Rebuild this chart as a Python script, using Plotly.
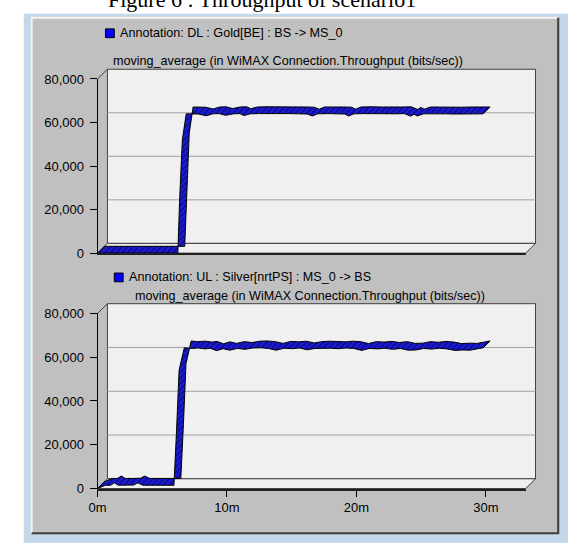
import plotly.graph_objects as go

# ---------------- data ----------------
caption = "Figure 6 : Throughput of scenario1"
dl_label = "Annotation: DL : Gold[BE] : BS -> MS_0"
ul_label = "Annotation: UL : Silver[nrtPS] : MS_0 -> BS"
stat_label = "moving_average (in WiMAX Connection.Throughput (bits/sec))"

y_ticks = [0, 20000, 40000, 60000, 80000]
y_tick_labels = ["0", "20,000", "40,000", "60,000", "80,000"]
x_ticks = [0, 10, 20, 30]
x_tick_labels = ["0m", "10m", "20m", "30m"]

# DL throughput (bits/sec) vs simulation time (minutes)
dl_time = [0.0, 1.0, 2.0, 3.0, 4.0, 5.0, 6.2, 6.35, 6.55, 6.85, 7.3, 7.8, 8.4, 8.9,
           9.4, 9.9, 10.5, 11.0, 11.3, 11.8, 12.5, 13.2, 14.0, 14.8, 15.6, 16.2,
           16.6, 17.0, 17.8, 18.6, 19.1, 19.4, 19.8, 20.6, 21.4, 22.2, 23.0, 23.7,
           24.2, 24.45, 24.7, 25.2, 26.0, 26.8, 27.6, 28.4, 29.2, 29.8]
dl_value = [0, 0, 0, 0, 0, 0, 0, 26000, 52000, 64000, 64100, 63900, 63100, 64000,
            64100, 63300, 64000, 64100, 63200, 64000, 64100, 64000, 63900, 64100, 64000, 63900,
            63000, 64000, 64100, 64000, 63900, 63000, 64000, 64100, 64000, 63900, 64000, 64100,
            62900, 63800, 63000, 64000, 64100, 64000, 63900, 64000, 64100, 64000]

# UL throughput (bits/sec) vs simulation time (minutes)
ul_time = [0.0, 0.6, 1.0, 1.3, 1.6, 2.2, 2.8, 3.1, 3.5, 4.2, 5.0, 5.9, 6.1, 6.3, 6.7,
           7.2, 7.8, 8.3, 8.7, 9.2, 9.7, 10.2, 10.8, 11.4, 12.0, 12.6, 13.2, 13.8, 14.4,
           15.0, 15.6, 16.2, 16.8, 17.4, 18.0, 18.6, 19.2, 19.8, 20.4, 21.0, 21.6, 22.2,
           22.8, 23.4, 24.0, 24.6, 25.2, 25.8, 26.4, 27.0, 27.6, 28.2, 28.8, 29.4, 29.8]
ul_value = [0, 1500, 1500, 2600, 1500, 1500, 1600, 2600, 1500, 1500, 1500, 1500, 26000, 54000, 64300,
            64000, 64200, 63800, 64100, 63000, 63900, 63200, 64000, 63600, 64200, 64300, 64000, 63200, 64100,
            63900, 64200, 63400, 64000, 64200, 64100, 63900, 64200, 64000, 63100, 64000, 63800, 64100,
            63600, 64000, 63200, 63300, 64000, 63700, 64100, 63800, 63100, 63300, 63200, 63900, 64300]

# ---------------- geometry / style ----------------
W, H = 568, 551
FONT = "Liberation Sans"
PANEL = "#c0c0c0"
INNER = "#f0f0f0"
EDGE = "#404040"
GRID = "#a0a0a0"
X_MAX = 435 / 13.15          # minutes across the front plane
Y_MAX = 80000
DEPTH = 10                   # 3-D depth of the back wall, px
RIB = 7                      # 3-D depth of the ribbon, px
TXT = 12.6

TOP = dict(x0=90, x1=525, y0=74, y1=253)
BOT = dict(x0=90, x1=525, y0=315, y1=495)


def fx(p):
    return p / W


def fy(p):
    return 1 - p / H


fig = go.Figure()


def ribbon(t, v, box, xa, ya):
    wpx = box["x1"] - box["x0"]
    hpx = box["y1"] - box["y0"]
    dx = RIB * X_MAX / wpx
    dy = RIB * Y_MAX / hpx
    xs = list(t) + [a + dx for a in reversed(t)] + [t[0]]
    ys = list(v) + [b + dy for b in reversed(v)] + [v[0]]
    fig.add_trace(go.Scatter(
        x=xs, y=ys, xaxis=xa, yaxis=ya, mode="lines", fill="toself",
        fillcolor="#1a1ae0",
        fillpattern=dict(shape="/", fgcolor="#000000", bgcolor="#1a1ae0", size=4, solidity=0.35),
        line=dict(color="#000000", width=1), hoverinfo="skip", showlegend=False,
        cliponaxis=False))


ribbon(dl_time, dl_value, TOP, "x", "y")
ribbon(ul_time, ul_value, BOT, "x2", "y2")

shapes = []
# window chrome
shapes.append(dict(type="rect", xref="paper", yref="paper", x0=fx(15), x1=fx(568), y0=fy(551), y1=fy(7),
                   fillcolor="#c4d8ec", line=dict(width=0), layer="below"))
shapes.append(dict(type="rect", xref="paper", yref="paper", x0=fx(22), x1=fx(560), y0=fy(542), y1=fy(10),
                   fillcolor=PANEL, line=dict(width=0), layer="below"))
shapes.append(dict(type="path", xref="paper", yref="paper", layer="below",
                   path=f"M{fx(23)},{fy(541)} L{fx(23)},{fy(11)} L{fx(558)},{fy(11)}",
                   line=dict(color="#f4f4f4", width=2)))
shapes.append(dict(type="path", xref="paper", yref="paper", layer="below",
                   path=f"M{fx(23)},{fy(541)} L{fx(558)},{fy(541)} L{fx(558)},{fy(11)}",
                   line=dict(color=EDGE, width=2)))


def frame(box, back_x, back_y):
    bx0, bx1 = box["x0"] + DEPTH, box["x1"] + DEPTH
    by0, by1 = box["y0"] - DEPTH, box["y1"] - DEPTH
    # back wall
    shapes.append(dict(type="rect", xref="paper", yref="paper", x0=fx(bx0), x1=fx(bx1), y0=fy(by1), y1=fy(by0),
                       fillcolor=INNER, line=dict(color=EDGE, width=1), layer="below"))
    # grid lines on the back wall
    for v in y_ticks[1:-1]:
        shapes.append(dict(type="line", xref=back_x + " domain", yref=back_y, x0=0, x1=1, y0=v, y1=v,
                           line=dict(color=GRID, width=1), layer="below"))
    # floor
    shapes.append(dict(type="path", xref="paper", yref="paper", layer="below",
                       path=(f"M{fx(box['x0'])},{fy(box['y1'])} L{fx(box['x1'])},{fy(box['y1'])} "
                             f"L{fx(bx1)},{fy(by1)} L{fx(bx0)},{fy(by1)} Z"),
                       fillcolor=INNER, line=dict(color=EDGE, width=1)))
    # left wall top edge
    shapes.append(dict(type="line", xref="paper", yref="paper", layer="below",
                       x0=fx(box["x0"]), y0=fy(box["y0"]), x1=fx(bx0), y1=fy(by0),
                       line=dict(color=EDGE, width=1)))


frame(TOP, "x3", "y3")
frame(BOT, "x4", "y4")

# legend squares
for (sx, sy) in [(98, 27), (107, 278)]:
    shapes.append(dict(type="rect", xref="paper", yref="paper", x0=fx(sx), x1=fx(sx + 9),
                       y0=fy(sy + 4.5), y1=fy(sy - 4.5), fillcolor="#0000ff",
                       line=dict(color="#000000", width=1)))

annotations = [
    dict(text=caption, x=fx(257), y=fy(-8), xref="paper", yref="paper", xanchor="center", yanchor="middle",
         showarrow=False, font=dict(family="Liberation Serif", size=22, color="#000000")),
    dict(text=dl_label, x=fx(111), y=fy(27), xref="paper", yref="paper", xanchor="left", yanchor="middle",
         showarrow=False, font=dict(family=FONT, size=TXT, color="#000000")),
    dict(text=stat_label, x=fx(283), y=fy(55), xref="paper", yref="paper", xanchor="center", yanchor="middle",
         showarrow=False, font=dict(family=FONT, size=TXT, color="#000000")),
    dict(text=ul_label, x=fx(120), y=fy(278), xref="paper", yref="paper", xanchor="left", yanchor="middle",
         showarrow=False, font=dict(family=FONT, size=TXT, color="#000000")),
    dict(text=stat_label, x=fx(306), y=fy(297), xref="paper", yref="paper", xanchor="center", yanchor="middle",
         showarrow=False, font=dict(family=FONT, size=TXT, color="#000000")),
]


def front_axes(box, show_x):
    xa = dict(domain=[fx(box["x0"]), fx(box["x1"])], range=[0, X_MAX], showgrid=False, zeroline=False,
              showline=True, linecolor="#202020", linewidth=2, fixedrange=True,
              tickvals=x_ticks, ticktext=x_tick_labels,
              ticks="outside" if show_x else "", ticklen=6, tickcolor="#000000",
              showticklabels=show_x, tickfont=dict(family=FONT, size=13, color="#000000"))
    ya = dict(domain=[fy(box["y1"]), fy(box["y0"])], range=[0, Y_MAX], showgrid=False, zeroline=False,
              showline=True, linecolor="#000000", linewidth=1, fixedrange=True,
              tickvals=y_ticks, ticktext=y_tick_labels, ticks="outside", ticklen=7,
              ticklabelstandoff=3,
              tickcolor="#000000", tickfont=dict(family=FONT, size=13, color="#000000"))
    return xa, ya


def back_axes(box):
    xa = dict(domain=[fx(box["x0"] + DEPTH), fx(box["x1"] + DEPTH)], range=[0, X_MAX], visible=False,
              fixedrange=True)
    ya = dict(domain=[fy(box["y1"] - DEPTH), fy(box["y0"] - DEPTH)], range=[0, Y_MAX], visible=False,
              fixedrange=True)
    return xa, ya


x1a, y1a = front_axes(TOP, False)
x2a, y2a = front_axes(BOT, True)
x3a, y3a = back_axes(TOP)
x4a, y4a = back_axes(BOT)
x1a["anchor"] = "y"; y1a["anchor"] = "x"
x2a["anchor"] = "y2"; y2a["anchor"] = "x2"
x3a["anchor"] = "y3"; y3a["anchor"] = "x3"
x4a["anchor"] = "y4"; y4a["anchor"] = "x4"

fig.update_layout(
    width=W, height=H, margin=dict(l=0, r=0, t=0, b=0),
    paper_bgcolor="#ffffff", plot_bgcolor="rgba(0,0,0,0)",
    font=dict(family=FONT, size=12, color="#000000"),
    showlegend=False,
    xaxis=x1a, yaxis=y1a, xaxis2=x2a, yaxis2=y2a,
    xaxis3=x3a, yaxis3=y3a, xaxis4=x4a, yaxis4=y4a,
    shapes=shapes, annotations=annotations,
)

fig.write_html("out.html")
